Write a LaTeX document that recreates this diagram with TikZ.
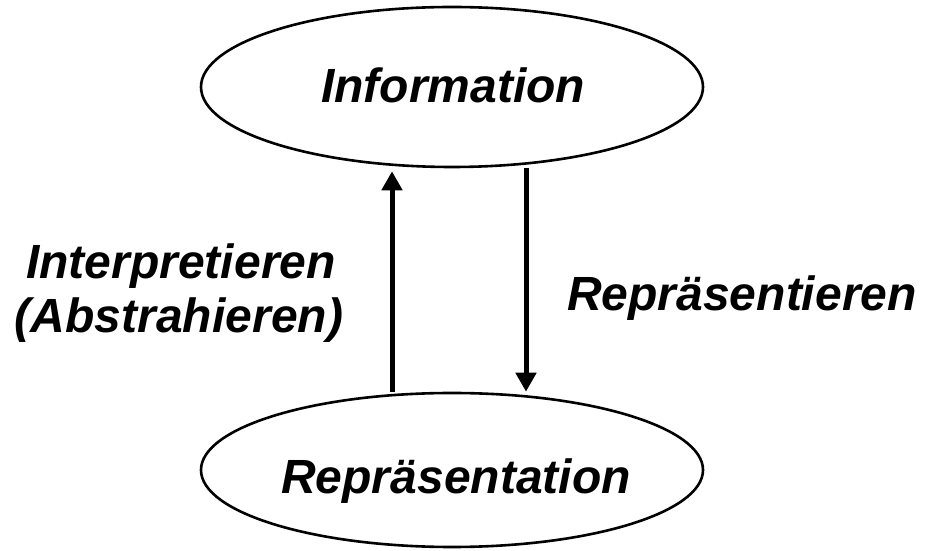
\documentclass[tikz,border=0pt]{standalone}
\usepackage{fontspec}
\setmainfont{Liberation Sans}
\usetikzlibrary{arrows.meta,shapes.geometric}
\begin{document}
\begin{tikzpicture}[x=1pt,y=1pt,
  oval/.style={draw,ellipse,line width=2.6pt,minimum width=502pt,inner sep=0pt},
  lbl/.style={font=\fontsize{48}{50}\selectfont\bfseries\itshape,inner sep=0pt,align=center},
  arr/.style={line width=5pt,-{Triangle[length=19pt,width=20pt]}}]
\path[use as bounding box] (0,0) rectangle (929,551);
\node[oval,minimum height=160pt] (info) at (452,464) {};
\node[oval,minimum height=154pt] (repr) at (452,81) {};
\node[lbl,anchor=base] (infot) at (453,448) {Information};
\node[lbl,anchor=base] (reprt) at (456,57) {Repräsentation};
\coordinate (ux) at (392,0);
\coordinate (dx) at (526,0);
\draw[arr] (ux |- repr.north) -- ([yshift=-3pt]ux |- info.south);
\draw[arr] (dx |- info.south) -- (dx |- repr.north);
\node[lbl,anchor=base] (l1) at (181,272) {Interpretieren};
\node[lbl,anchor=base] (l2) at (179,218) {(Abstrahieren)};
\node[lbl,anchor=base] (r1) at (742,240) {Repräsentieren};
\end{tikzpicture}
\end{document}
